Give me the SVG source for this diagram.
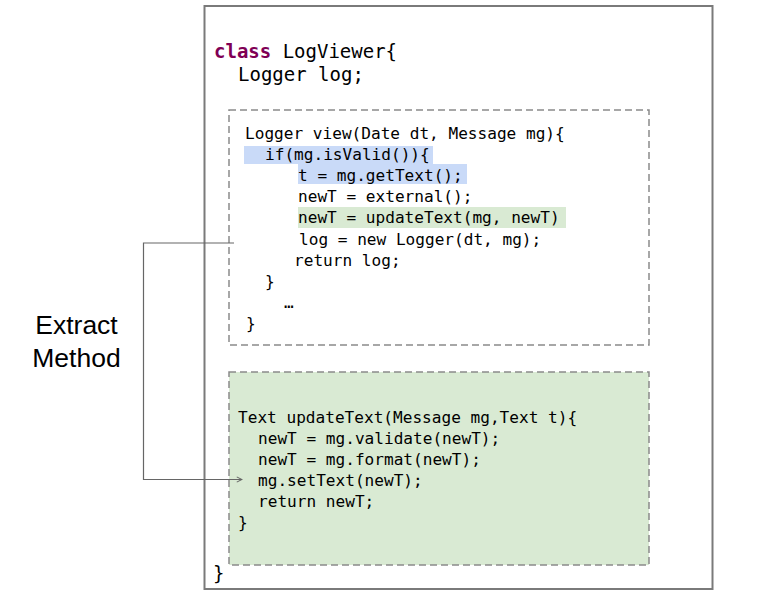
<svg xmlns="http://www.w3.org/2000/svg" width="767" height="596" viewBox="0 0 767 596">
<defs>
<style>
.code{font-family:"DejaVu Sans Mono","Liberation Mono",monospace;font-size:16.1px;fill:#000;white-space:pre}
.big{font-family:"DejaVu Sans Mono","Liberation Mono",monospace;font-size:19px;fill:#000;white-space:pre}
.kw{fill:#7f0055;font-weight:bold}
.lbl{font-family:"Liberation Sans",Arial,sans-serif;font-size:26.5px;fill:#000;text-anchor:middle}
.dash{stroke:#8a8a8a;stroke-width:1.5;stroke-dasharray:7 4}
.conn{fill:none;stroke:#666;stroke-width:1.2}
</style>
<marker id="arr" viewBox="0 0 8 8" refX="7" refY="4" markerWidth="7" markerHeight="7" orient="auto" markerUnits="userSpaceOnUse">
<path d="M1,1 L7,4 L1,7" fill="none" stroke="#666" stroke-width="1.2"/>
</marker>
</defs>
<rect width="767" height="596" fill="#fff"/>
<g id="class-box">
<rect x="204.5" y="6" width="508" height="583" fill="#fff" stroke="#7a7a7a" stroke-width="2"/>
<text class="big" x="214" y="58"><tspan class="kw">class</tspan> LogViewer{</text>
<text class="big" x="238" y="81">Logger log;</text>
<text class="big" x="213" y="580">}</text>
</g>
<g id="view-method">
<rect x="229" y="110" width="420" height="235" fill="#fff" class="dash"/>
<rect x="244" y="146" width="189" height="18" fill="#c9daf8"/>
<rect x="298" y="164" width="169" height="20" fill="#c9daf8"/>
<rect x="298" y="207" width="268" height="21" fill="#d9ead3"/>
<text class="code" x="245" y="139">Logger view(Date dt, Message mg){</text>
<text class="code" x="265" y="160">if(mg.isValid()){</text>
<text class="code" x="298" y="181">t = mg.getText();</text>
<text class="code" x="298" y="202">newT = external();</text>
<text class="code" x="298" y="223">newT = updateText(mg, newT)</text>
<text class="code" x="299" y="245">log = new Logger(dt, mg);</text>
<text class="code" x="294" y="266">return log;</text>
<text class="code" x="265" y="287">}</text>
<text class="code" x="284" y="308">…</text>
<text class="code" x="246" y="329">}</text>
</g>
<g id="updateText-method">
<rect x="229" y="372" width="420" height="193" fill="#d9ead3" class="dash"/>
<text class="code" x="238" y="423">Text updateText(Message mg,Text t){</text>
<text class="code" x="258" y="444">newT = mg.validate(newT);</text>
<text class="code" x="258" y="465">newT = mg.format(newT);</text>
<text class="code" x="258" y="486">mg.setText(newT);</text>
<text class="code" x="258" y="507">return newT;</text>
<text class="code" x="238" y="528">}</text>
</g>
<g id="extract-label">
<text class="lbl" x="76.5" y="334">Extract</text>
<text class="lbl" x="76.5" y="367">Method</text>
</g>
<g id="connectors">
<path class="conn" d="M234,243 H143.5 V479.5 H242" marker-end="url(#arr)"/>
</g>
</svg>
